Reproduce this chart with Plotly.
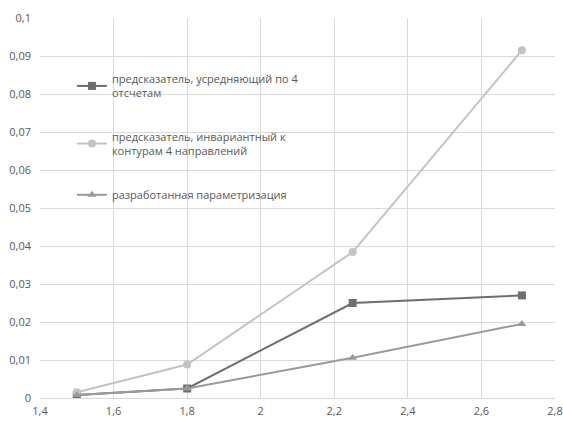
import plotly.graph_objects as go

x_vals = [1.5, 1.8, 2.25, 2.71]
avg4 = [0.0008, 0.0025, 0.025, 0.027]
inv4 = [0.0015, 0.0088, 0.0384, 0.0915]
developed = [0.0008, 0.0025, 0.0106, 0.0195]

names = [
    "предсказатель, усредняющий по 4<br>отсчетам",
    "предсказатель, инвариантный к<br>контурам 4 направлений",
    "разработанная параметризация",
]
colors = ["#6e6e6e", "#c3c3c3", "#9a9a9a"]
symbols = ["square", "circle", "triangle-up"]
series = [avg4, inv4, developed]

x_ticks = [1.4, 1.6, 1.8, 2.0, 2.2, 2.4, 2.6, 2.8]
x_tick_text = ["1,4", "1,6", "1,8", "2", "2,2", "2,4", "2,6", "2,8"]
y_ticks = [0, 0.01, 0.02, 0.03, 0.04, 0.05, 0.06, 0.07, 0.08, 0.09, 0.1]
y_tick_text = ["0", "0,01", "0,02", "0,03", "0,04", "0,05", "0,06", "0,07", "0,08", "0,09", "0,1"]

fig = go.Figure()
for i, (nm, c, s, ys) in enumerate(zip(names, colors, symbols, series)):
    fig.add_trace(go.Scatter(
        x=x_vals, y=ys, name=nm, mode="lines+markers",
        line=dict(color=c, width=2),
        marker=dict(symbol=s, size=8, color=c),
        legendgroup=f"g{i}",
    ))

fig.update_layout(
    width=563, height=425,
    margin=dict(l=40, r=8, t=18, b=27, autoexpand=False),
    paper_bgcolor="white", plot_bgcolor="white",
    font=dict(family="Open Sans", size=11, color="#595959"),
    showlegend=True,
    legend=dict(
        x=0.062, y=0.876, xanchor="left", yanchor="top",
        bgcolor="rgba(0,0,0,0)", traceorder="grouped", tracegroupgap=26,
        font=dict(size=11, color="#595959"), itemwidth=30,
    ),
    xaxis=dict(
        range=[1.4, 2.8], tickvals=x_ticks, ticktext=x_tick_text,
        showgrid=True, gridcolor="#d9d9d9", gridwidth=1,
        zeroline=False, showline=True, linecolor="#d9d9d9", ticks="",
        ticklabelstandoff=3,
    ),
    yaxis=dict(
        range=[0, 0.1], tickvals=y_ticks, ticktext=y_tick_text,
        showgrid=True, gridcolor="#d9d9d9", gridwidth=1,
        zeroline=False, showline=False, ticks="",
        ticklabelstandoff=8,
    ),
)

fig.write_html(
    "out.html",
    config={"displayModeBar": False},
    post_script="document.body.style.margin='0';document.body.style.overflow='hidden';",
)
